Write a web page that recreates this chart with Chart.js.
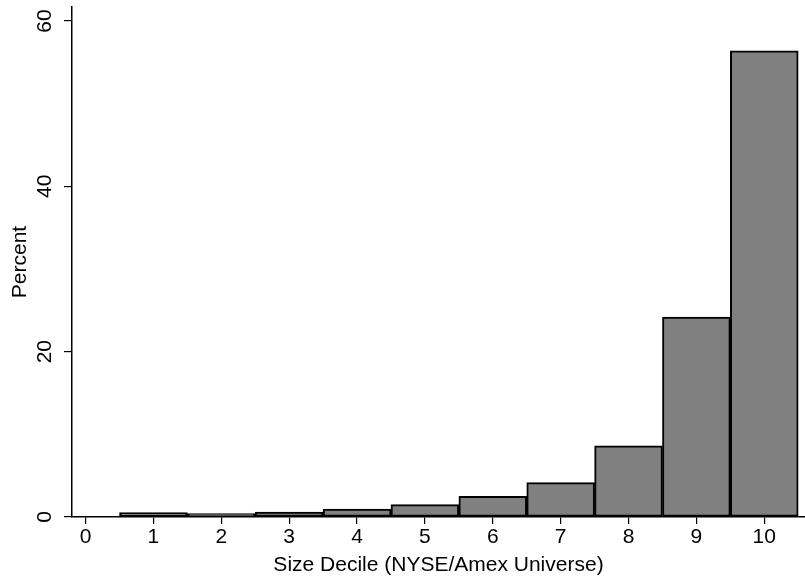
<!DOCTYPE html>
<html>
<head>
<meta charset="utf-8">
<script src="https://cdn.jsdelivr.net/npm/chart.js@4"></script>
<style>
html,body{margin:0;padding:0;background:#fff;}
#wrap{width:805px;height:577px;}
</style>
</head>
<body>
<div id="wrap"><canvas id="c" width="805" height="577"></canvas></div>
<script>
const deciles = [1, 2, 3, 4, 5, 6, 7, 8, 9, 10];
const percents = [0.53, 0.41, 0.6, 0.97, 1.5, 2.5, 4.16, 8.6, 24.2, 56.4];
const xTicks = [0, 1, 2, 3, 4, 5, 6, 7, 8, 9, 10];
const yTicks = [0, 20, 40, 60];
const xTitle = 'Size Decile (NYSE/Amex Universe)';
const yTitle = 'Percent';

const FONT = '"Liberation Sans", Arial, Helvetica, sans-serif';
const FSIZE = 21;

// Draws the y tick labels rotated (reading bottom to top) at the scale's tick positions
const rotatedYLabels = {
  id: 'rotatedYLabels',
  afterDraw(chart) {
    const y = chart.scales.y;
    const ctx = chart.ctx;
    ctx.save();
    ctx.fillStyle = '#000';
    ctx.font = FSIZE + 'px ' + FONT;
    ctx.textAlign = 'center';
    ctx.textBaseline = 'middle';
    const xPos = y.right - 7 - 4 - 16;
    y.ticks.forEach(t => {
      const py = y.getPixelForValue(t.value);
      ctx.save();
      ctx.translate(xPos, py);
      ctx.rotate(-Math.PI / 2);
      ctx.fillText(String(t.value), 0, 0);
      ctx.restore();
    });
    ctx.restore();
  }
};

new Chart(document.getElementById('c'), {
  type: 'bar',
  data: {
    datasets: [{
      data: deciles.map((d, i) => ({x: d, y: percents[i]})),
      backgroundColor: '#808080',
      borderColor: '#000000',
      borderWidth: 2,
      borderSkipped: false,
      barPercentage: 1,
      categoryPercentage: 1
    }]
  },
  plugins: [rotatedYLabels],
  options: {
    responsive: false,
    devicePixelRatio: 1,
    animation: false,
    layout: {padding: {left: 0, right: 0, top: 7, bottom: 0}},
    plugins: {legend: {display: false}, tooltip: {enabled: false}},
    scales: {
      x: {
        type: 'linear',
        offset: false,
        min: -0.2,
        max: 10.6,
        afterBuildTicks: s => { s.ticks = xTicks.map(v => ({value: v})); },
        afterFit: s => { s.height = 60; },
        grid: {display: true, offset: false, drawOnChartArea: false, drawTicks: true, tickLength: 7, color: '#000', lineWidth: 1.2},
        border: {display: true, color: '#000', width: 1.5},
        ticks: {color: '#000', font: {family: FONT, size: FSIZE}, padding: 1, maxRotation: 0, minRotation: 0},
        title: {display: true, text: xTitle, color: '#000', font: {family: FONT, size: FSIZE}, padding: {top: 0, bottom: -1}}
      },
      y: {
        type: 'linear',
        min: 0,
        max: 61.7,
        afterBuildTicks: s => { s.ticks = yTicks.map(v => ({value: v})); },
        afterFit: s => { s.width = 72; },
        grid: {display: true, drawOnChartArea: false, drawTicks: true, tickLength: 8, color: '#000', lineWidth: 1.2},
        border: {display: true, color: '#000', width: 1.5},
        ticks: {display: false},
        title: {display: true, text: yTitle, color: '#000', font: {family: FONT, size: FSIZE}, padding: {top: 8, bottom: 0}}
      }
    }
  }
});
</script>
</body>
</html>
